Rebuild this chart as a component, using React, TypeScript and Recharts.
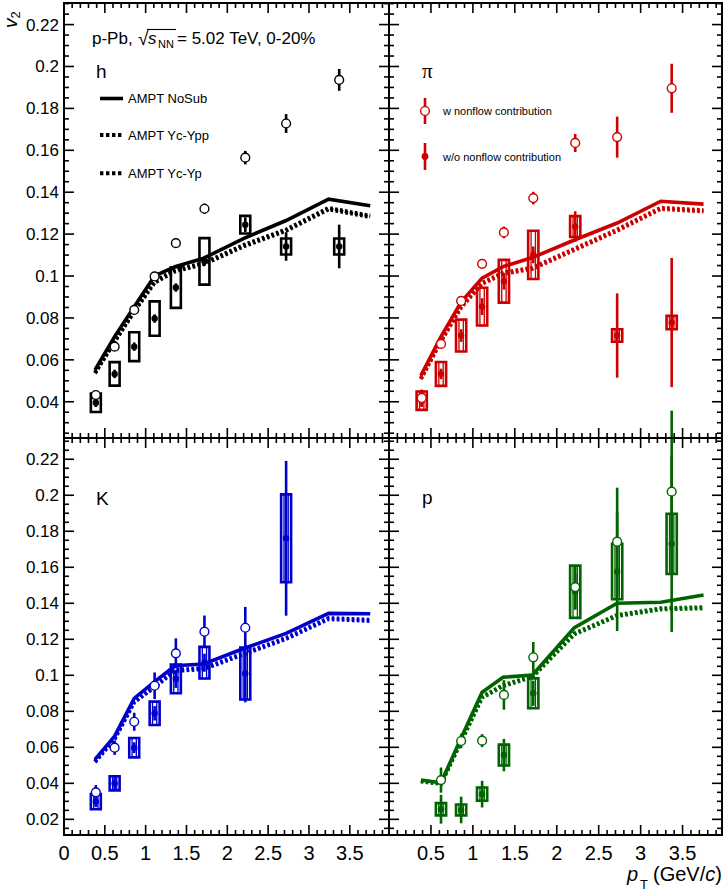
import { ComposedChart, Line, Scatter, ErrorBar, XAxis, YAxis, ReferenceArea } from 'recharts'

const W = 726
const H = 893
const FONT = '"Liberation Sans", Arial, Helvetica, sans-serif'

const BLACK = '#000000'
const RED = '#cc0000'
const BLUE = '#0000cc'
const GREEN = '#006400'

// pT bin centres of the measured points (GeV/c)
const PT = [0.39, 0.62, 0.86, 1.11, 1.37, 1.72, 2.22, 2.72, 3.37]
const PT_K = [0.39, 0.62, 0.86, 1.11, 1.37, 1.72, 2.22, 2.72]
const PT_P = [0.62, 0.86, 1.11, 1.37, 1.72, 2.22, 2.72, 3.37]
// pT points of the AMPT curves
const MODEL_PT = [0.38, 0.62, 0.86, 1.11, 1.36, 1.71, 2.21, 2.72, 3.24, 3.75]

// --- h (charged hadrons)
const H_W = [0.0432, 0.0663, 0.0838, 0.0998, 0.1157, 0.1321, 0.1565, 0.1728, 0.1936]
const H_W_ERR = [0.0012, 0.0012, 0.0015, 0.0015, 0.002, 0.0025, 0.0032, 0.0045, 0.0052]
const H_WO = [0.0395, 0.0533, 0.0663, 0.0797, 0.0945, 0.107, 0.1245, 0.1141, 0.1141]
const H_WO_STAT = [0.002, 0.002, 0.002, 0.002, 0.002, 0.002, 0.0035, 0.0068, 0.0104]
const H_WO_SYS = [0.0044, 0.0056, 0.0069, 0.0082, 0.0097, 0.0111, 0.0042, 0.0038, 0.0038]
const H_NOSUB = [0.0552, 0.0711, 0.0854, 0.1001, 0.1045, 0.1085, 0.1181, 0.1265, 0.1367, 0.1335]
const H_YPP = [0.054, 0.069, 0.0835, 0.0975, 0.103, 0.1062, 0.115, 0.1222, 0.1325, 0.1288]
const H_YP = [0.0536, 0.0686, 0.083, 0.0968, 0.1022, 0.1056, 0.1143, 0.1216, 0.1318, 0.1282]

// --- pi
const PI_W = [0.0418, 0.0676, 0.0881, 0.1058, 0.1208, 0.1372, 0.1635, 0.1663, 0.1896]
const PI_W_ERR = [0.004, 0.0012, 0.0015, 0.002, 0.0028, 0.003, 0.0043, 0.0098, 0.0117]
const PI_WO = [0.0405, 0.0533, 0.0716, 0.0854, 0.0975, 0.1101, 0.1236, 0.0716, 0.0778]
const PI_WO_STAT = [0.003, 0.0025, 0.003, 0.004, 0.004, 0.004, 0.0073, 0.0201, 0.0308]
const PI_WO_SYS = [0.0044, 0.0057, 0.0076, 0.009, 0.0102, 0.0115, 0.005, 0.003, 0.0032]
const PI_NOSUB = [0.0525, 0.0711, 0.0876, 0.099, 0.1045, 0.1088, 0.1172, 0.1253, 0.1357, 0.1343]
const PI_YPP = [0.0512, 0.0692, 0.0856, 0.0968, 0.1016, 0.104, 0.113, 0.1222, 0.1326, 0.1314]
const PI_YP = [0.0508, 0.0688, 0.085, 0.0962, 0.101, 0.1034, 0.1124, 0.1216, 0.132, 0.1308]

// --- K
const K_W: (number | null)[] = [0.035, 0.0598, 0.0742, 0.0942, 0.1122, 0.1242, 0.1264, null]
const K_W_ERR = [0.004, 0.004, 0.005, 0.0074, 0.0083, 0.009, 0.0116, 0]
const K_WO = [0.0298, 0.04, 0.0598, 0.0789, 0.098, 0.107, 0.101, 0.1761]
const K_WO_STAT = [0.003, 0.004, 0.003, 0.004, 0.005, 0.005, 0.016, 0.043]
const K_WO_SYS = [0.0042, 0.0039, 0.0054, 0.0065, 0.008, 0.0088, 0.0144, 0.0244]
const K_NOSUB = [0.0533, 0.0662, 0.0872, 0.0965, 0.1053, 0.1063, 0.115, 0.1233, 0.1344, 0.1342]
const K_YPP = [0.0522, 0.065, 0.0855, 0.094, 0.103, 0.104, 0.1124, 0.1208, 0.1318, 0.1308]
const K_YP = [0.0518, 0.0646, 0.085, 0.0934, 0.1024, 0.1034, 0.1118, 0.1202, 0.1312, 0.1302]

// --- p
const P_W = [0.0418, 0.0635, 0.0637, 0.0891, 0.11, 0.149, 0.1742, 0.202]
const P_W_ERR = [0.007, 0.004, 0.0036, 0.0082, 0.0085, 0.012, 0.03, 0.045]
const P_WO = [0.0256, 0.0252, 0.034, 0.0557, 0.09, 0.1464, 0.1576, 0.173]
const P_WO_STAT = [0.008, 0.0074, 0.0074, 0.009, 0.007, 0.01, 0.033, 0.049]
const P_WO_SYS = [0.0034, 0.003, 0.0037, 0.0058, 0.0083, 0.0145, 0.0154, 0.0167]
const P_NOSUB = [0.0418, 0.0403, 0.0652, 0.0906, 0.0989, 0.1002, 0.1264, 0.14, 0.1406, 0.1446]
const P_YPP = [0.0413, 0.04, 0.0635, 0.0881, 0.0946, 0.0996, 0.1233, 0.1335, 0.1372, 0.1378]
const P_YP = [0.041, 0.0397, 0.063, 0.0875, 0.094, 0.099, 0.1227, 0.1329, 0.1366, 0.1372]

// half widths of the systematic boxes, in pT units
const BOX_HALF = 0.061
const INNER_HALF = 0.026

interface Box {
  left: number
  right: number
  top: number
  bottom: number
}

interface PanelProps {
  box: Box
  xMax: number
  yDomain: [number, number]
  color: string
  pt: number[]
  withNf: (number | null)[]
  withNfErr: number[]
  woNf: number[]
  woStat: number[]
  woSys: number[]
  noSub: number[]
  ycYpp: number[]
  ycYp: number[]
  xLabels: boolean
  yLabels: boolean
  xZeroLabel: boolean
  doubleBox: boolean
}

function stepTicks(lo: number, hi: number, step: number): number[] {
  const out: number[] = []
  for (let k = Math.ceil(lo / step - 1e-9); k <= Math.floor(hi / step + 1e-9); k++) {
    out.push(+(k * step).toFixed(4))
  }
  return out
}

function isMultiple(v: number, step: number) {
  const r = v / step
  return Math.abs(r - Math.round(r)) < 1e-6
}

function Panel(p: PanelProps) {
  const { box } = p
  const curve = (vals: number[]) => vals.map((y, i) => ({ x: MODEL_PT[i], y }))
  const openPts = p.pt
    .map((x, i) => ({ x, y: p.withNf[i], err: p.withNfErr[i] }))
    .filter((d) => d.y !== null)
  const filledPts = p.pt.map((x, i) => ({ x, y: p.woNf[i], err: p.woStat[i] }))

  const xTicks = stepTicks(0, p.xMax, 0.1)
  const yTicks = stepTicks(p.yDomain[0], p.yDomain[1], 0.005)

  // ticks point inwards on all four sides, like the ROOT frame
  const renderXTick = (props: any) => {
    const v = props.payload.value as number
    const c = props.payload.coordinate as number
    const major = isMultiple(v, 0.5)
    const len = major ? 10 : 5
    return (
      <g>
        <line x1={c} x2={c} y1={box.bottom} y2={box.bottom - len} stroke="#000" strokeWidth={1.6} />
        <line x1={c} x2={c} y1={box.top} y2={box.top + len} stroke="#000" strokeWidth={1.6} />
        {p.xLabels && major && (v > 0 || p.xZeroLabel) && (
          <text x={c} y={box.bottom + 25} textAnchor="middle" fontSize={20} fontFamily={FONT} fill="#000">
            {String(v)}
          </text>
        )}
      </g>
    )
  }

  const renderYTick = (props: any) => {
    const v = props.payload.value as number
    const c = props.payload.coordinate as number
    const major = isMultiple(v, 0.02)
    const len = major ? 10 : 5
    return (
      <g>
        <line x1={box.left} x2={box.left + len} y1={c} y2={c} stroke="#000" strokeWidth={1.6} />
        <line x1={box.right} x2={box.right - len} y1={c} y2={c} stroke="#000" strokeWidth={1.6} />
        {p.yLabels && major && (
          <text x={box.left - 5} y={c + 6} textAnchor="end" fontSize={17} fontFamily={FONT} fill="#000">
            {String(+v.toFixed(3))}
          </text>
        )}
      </g>
    )
  }

  return (
    <div style={{ position: 'absolute', left: 0, top: 0 }}>
      <ComposedChart
        width={W}
        height={H}
        margin={{ top: box.top, right: W - box.right, bottom: H - box.bottom - 1, left: box.left - 1 }}
      >
        <XAxis
          type="number"
          dataKey="x"
          domain={[0, p.xMax]}
          allowDataOverflow
          ticks={xTicks}
          interval={0}
          height={1}
          axisLine={false}
          tickLine={false}
          tick={renderXTick}
        />
        <YAxis
          type="number"
          dataKey="y"
          domain={p.yDomain}
          allowDataOverflow
          ticks={yTicks}
          interval={0}
          width={1}
          axisLine={false}
          tickLine={false}
          tick={renderYTick}
        />
        {p.pt.map((x, i) => (
          <ReferenceArea
            key={'sys' + i}
            x1={x - BOX_HALF}
            x2={x + BOX_HALF}
            y1={p.woNf[i] - p.woSys[i]}
            y2={p.woNf[i] + p.woSys[i]}
            fill="none"
            stroke={p.color}
            strokeWidth={2.6}
          />
        ))}
        {p.doubleBox &&
          p.pt.map((x, i) => (
            <ReferenceArea
              key={'in' + i}
              x1={x - INNER_HALF}
              x2={x + INNER_HALF}
              y1={p.woNf[i] - p.woSys[i]}
              y2={p.woNf[i] + p.woSys[i]}
              fill="none"
              stroke={p.color}
              strokeWidth={1.3}
            />
          ))}
        <Line
          data={curve(p.noSub)}
          dataKey="y"
          type="linear"
          stroke={p.color}
          strokeWidth={3.6}
          dot={false}
          isAnimationActive={false}
        />
        <Line
          data={curve(p.ycYpp)}
          dataKey="y"
          type="linear"
          stroke={p.color}
          strokeWidth={4}
          strokeDasharray="2.6 2.4"
          dot={false}
          isAnimationActive={false}
        />
        <Line
          data={curve(p.ycYp)}
          dataKey="y"
          type="linear"
          stroke={p.color}
          strokeWidth={4}
          strokeDasharray="2.6 2.4"
          dot={false}
          isAnimationActive={false}
        />
        <Scatter
          data={filledPts}
          isAnimationActive={false}
          shape={(s: any) => <circle cx={s.cx} cy={s.cy} r={3.2} fill={p.color} />}
        >
          <ErrorBar dataKey="err" direction="y" width={0} stroke={p.color} strokeWidth={2.6} isAnimationActive={false} />
        </Scatter>
        <Scatter
          data={openPts}
          isAnimationActive={false}
          shape={(s: any) => (
            <circle cx={s.cx} cy={s.cy} r={4.4} fill="#fff" stroke={p.color} strokeWidth={1.4} />
          )}
        >
          <ErrorBar dataKey="err" direction="y" width={0} stroke={p.color} strokeWidth={2.6} isAnimationActive={false} />
        </Scatter>
      </ComposedChart>
    </div>
  )
}

const TL: Box = { left: 64, right: 389, top: 3, bottom: 438 }
const TR: Box = { left: 389, right: 722, top: 3, bottom: 438 }
const BL: Box = { left: 64, right: 389, top: 438, bottom: 835 }
const BR: Box = { left: 389, right: 722, top: 438, bottom: 835 }
const TOP_Y: [number, number] = [0.0227, 0.2303]
const BOT_Y: [number, number] = [0.0113, 0.2318]

export default function App() {
  const frames = [TL, TR, BL, BR]
  return (
    <div style={{ position: 'absolute', left: 0, top: 0, width: W, height: H, background: '#fff', overflow: 'hidden' }}>
      <Panel box={TL} xMax={3.98} yDomain={TOP_Y} color={BLACK} pt={PT} withNf={H_W} withNfErr={H_W_ERR}
        woNf={H_WO} woStat={H_WO_STAT} woSys={H_WO_SYS} noSub={H_NOSUB} ycYpp={H_YPP} ycYp={H_YP}
        xLabels={false} yLabels xZeroLabel doubleBox={false} />
      <Panel box={TR} xMax={3.97} yDomain={TOP_Y} color={RED} pt={PT} withNf={PI_W} withNfErr={PI_W_ERR}
        woNf={PI_WO} woStat={PI_WO_STAT} woSys={PI_WO_SYS} noSub={PI_NOSUB} ycYpp={PI_YPP} ycYp={PI_YP}
        xLabels={false} yLabels={false} xZeroLabel={false} doubleBox />
      <Panel box={BL} xMax={3.98} yDomain={BOT_Y} color={BLUE} pt={PT_K} withNf={K_W} withNfErr={K_W_ERR}
        woNf={K_WO} woStat={K_WO_STAT} woSys={K_WO_SYS} noSub={K_NOSUB} ycYpp={K_YPP} ycYp={K_YP}
        xLabels yLabels xZeroLabel doubleBox />
      <Panel box={BR} xMax={3.97} yDomain={BOT_Y} color={GREEN} pt={PT_P} withNf={P_W} withNfErr={P_W_ERR}
        woNf={P_WO} woStat={P_WO_STAT} woSys={P_WO_SYS} noSub={P_NOSUB} ycYpp={P_YPP} ycYp={P_YP}
        xLabels yLabels={false} xZeroLabel={false} doubleBox />

      <svg width={W} height={H} style={{ position: 'absolute', left: 0, top: 0 }} fontFamily={FONT}>
        {frames.map((b, i) => (
          <rect key={i} x={b.left} y={b.top} width={b.right - b.left} height={b.bottom - b.top}
            fill="none" stroke="#000" strokeWidth={2} />
        ))}

        {/* y axis title */}
        <text transform="translate(17,28) rotate(-90)" fontSize={19} fill="#000">
          <tspan fontStyle="italic">v</tspan>
          <tspan fontSize={13} dy={3}>2</tspan>
        </text>

        {/* x axis title */}
        <text x={627} y={881} fontSize={20} fontStyle="italic" fill="#000">p</text>
        <text x={640} y={889} fontSize={13} fill="#000">T</text>
        <text x={653} y={881} fontSize={20} fill="#000">
          (GeV/<tspan fontStyle="italic">c</tspan>)
        </text>

        {/* system label */}
        <text x={92} y={44} fontSize={17} fill="#000">p-Pb,</text>
        <text x={138} y={45} fontSize={19} fill="#000">√</text>
        <line x1={147} x2={176} y1={29.5} y2={29.5} stroke="#000" strokeWidth={1.1} />
        <text x={148} y={44} fontSize={17} fontStyle="italic" fill="#000">s</text>
        <text x={158} y={48} fontSize={11} fill="#000">NN</text>
        <text x={177} y={44} fontSize={17} fill="#000">= 5.02 TeV, 0-20%</text>

        {/* species labels */}
        <text x={96} y={78} fontSize={19} fill="#000">h</text>
        <text x={422} y={78} fontSize={21} fontFamily='"Liberation Serif", "DejaVu Serif", serif' fill="#000">π</text>
        <text x={96} y={505} fontSize={19} fill="#000">K</text>
        <text x={422} y={504} fontSize={19} fill="#000">p</text>

        {/* model legend */}
        <line x1={100} x2={123} y1={98.5} y2={98.5} stroke="#000" strokeWidth={3.6} />
        <text x={128} y={103} fontSize={13} fill="#000">AMPT NoSub</text>
        <line x1={100} x2={123} y1={135} y2={135} stroke="#000" strokeWidth={4} strokeDasharray="3.4 2.6" />
        <text x={128} y={139.5} fontSize={13} fill="#000">AMPT Yc-Ypp</text>
        <line x1={100} x2={123} y1={173.3} y2={173.3} stroke="#000" strokeWidth={4} strokeDasharray="3.4 2.6" />
        <text x={128} y={177.8} fontSize={13} fill="#000">AMPT Yc-Yp</text>

        {/* data legend */}
        <line x1={425} x2={425} y1={98} y2={124} stroke={RED} strokeWidth={2.6} />
        <circle cx={425} cy={111} r={4.4} fill="#fff" stroke={RED} strokeWidth={1.4} />
        <text x={443} y={115} fontSize={11} fill="#000">w nonflow contribution</text>
        <line x1={425} x2={425} y1={143} y2={170} stroke={RED} strokeWidth={2.6} />
        <circle cx={425} cy={156.5} r={3.4} fill={RED} />
        <text x={443} y={160.5} fontSize={11} fill="#000">w/o nonflow contribution</text>
      </svg>
    </div>
  )
}
